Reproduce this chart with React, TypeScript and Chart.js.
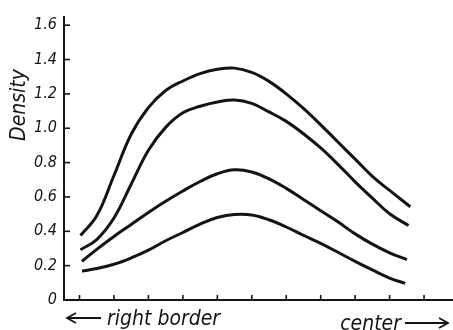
import React, { useEffect, useRef } from "react";
import { Chart, registerables } from "chart.js";

Chart.register(...registerables);

const yTickValues = [0, 0.2, 0.4, 0.6, 0.8, 1.0, 1.2, 1.4, 1.6];
const yTickLabels = ["0", "0.2", "0.4", "0.6", "0.8", "1.0", "1.2", "1.4", "1.6"];
const xTickValues = [0, 1, 2, 3, 4, 5, 6, 7, 8, 9, 10];

const curve1X = [0.03, 0.5, 1, 1.5, 2, 2.5, 3, 3.5, 4, 4.5, 5, 5.5, 6, 6.5, 7, 7.5, 8, 8.5, 9, 9.6];
const curve1Y = [0.376, 0.49, 0.725, 0.965, 1.12, 1.22, 1.275, 1.318, 1.343, 1.35, 1.325, 1.273, 1.2, 1.115, 1.02, 0.92, 0.82, 0.72, 0.638, 0.543];

const curve2X = [0.03, 0.5, 1, 1.5, 2, 2.5, 3, 3.5, 4, 4.5, 5, 5.5, 6, 6.5, 7, 7.5, 8, 8.5, 9, 9.55];
const curve2Y = [0.293, 0.352, 0.477, 0.674, 0.872, 1.005, 1.09, 1.128, 1.153, 1.165, 1.145, 1.095, 1.04, 0.968, 0.885, 0.79, 0.688, 0.593, 0.502, 0.434];

const curve3X = [0.07, 0.5, 1, 1.5, 2, 2.5, 3, 3.5, 4, 4.5, 5, 5.5, 6, 6.5, 7, 7.5, 8, 8.5, 9, 9.5];
const curve3Y = [0.225, 0.295, 0.37, 0.44, 0.51, 0.575, 0.635, 0.69, 0.735, 0.758, 0.745, 0.705, 0.65, 0.585, 0.52, 0.455, 0.385, 0.325, 0.275, 0.235];

const curve4X = [0.07, 0.5, 1, 1.5, 2, 2.5, 3, 3.5, 4, 4.5, 5, 5.5, 6, 6.5, 7, 7.5, 8, 8.5, 9, 9.45];
const curve4Y = [0.168, 0.183, 0.208, 0.245, 0.29, 0.345, 0.393, 0.442, 0.48, 0.498, 0.495, 0.467, 0.425, 0.377, 0.33, 0.278, 0.225, 0.175, 0.128, 0.097];

const yAxisTitle = "Density";
const leftLabel = "right border";
const rightLabel = "center";

const FONT = "'DejaVu Sans Condensed', 'Liberation Sans Narrow', 'DejaVu Sans', sans-serif";
const INK = "#141414";

const toPoints = (xs: number[], ys: number[]) => xs.map((x, i) => ({ x, y: ys[i] }));

function drawArrow(ctx: CanvasRenderingContext2D, x1: number, x2: number, y: number, dir: number) {
  ctx.beginPath();
  ctx.moveTo(x1, y);
  ctx.lineTo(x2, y);
  const hx = dir < 0 ? x1 : x2;
  const s = dir < 0 ? 1 : -1;
  ctx.moveTo(hx + s * 9, y - 5);
  ctx.lineTo(hx, y);
  ctx.lineTo(hx + s * 9, y + 5);
  ctx.stroke();
}

const decorPlugin = {
  id: "decor",
  afterDraw(chart: any) {
    const { ctx, chartArea, scales } = chart;
    const xs = scales.x;
    const ys = scales.y;
    ctx.save();
    ctx.strokeStyle = INK;
    ctx.lineWidth = 1.6;
    yTickValues.forEach((v) => {
      if (v === 0) return;
      const py = ys.getPixelForValue(v);
      ctx.beginPath();
      ctx.moveTo(chartArea.left, py);
      ctx.lineTo(chartArea.left + 6, py);
      ctx.stroke();
    });
    xTickValues.forEach((v) => {
      const px = xs.getPixelForValue(v);
      ctx.beginPath();
      ctx.moveTo(px, chartArea.bottom);
      ctx.lineTo(px, chartArea.bottom - 5);
      ctx.stroke();
    });
    ctx.fillStyle = INK;
    ctx.save();
    ctx.translate(25, 105);
    ctx.rotate(-Math.PI / 2);
    ctx.font = `italic 21px ${FONT}`;
    ctx.textAlign = "center";
    ctx.textBaseline = "alphabetic";
    ctx.fillText(yAxisTitle, 0, 0);
    ctx.restore();
    ctx.font = `italic 21px ${FONT}`;
    ctx.textBaseline = "alphabetic";
    ctx.textAlign = "left";
    ctx.fillText(leftLabel, 107, 325);
    ctx.textAlign = "right";
    ctx.fillText(rightLabel, 401, 330);
    ctx.lineWidth = 1.8;
    drawArrow(ctx, 67, 101, 318, -1);
    drawArrow(ctx, 405, 448, 323, 1);
    ctx.restore();
  },
};

export default function App() {
  const ref = useRef<HTMLCanvasElement>(null);
  useEffect(() => {
    document.body.style.margin = "0";
    const mk = (xs: number[], ys: number[]) => ({
      data: toPoints(xs, ys),
      borderColor: INK,
      borderWidth: 3,
      pointRadius: 0,
      tension: 0.4,
      fill: false,
    });
    const chart = new Chart(ref.current!, {
      type: "line",
      data: {
        datasets: [mk(curve1X, curve1Y), mk(curve2X, curve2Y), mk(curve3X, curve3Y), mk(curve4X, curve4Y)],
      },
      options: {
        animation: false,
        responsive: false,
        layout: { padding: { top: 14.5, right: 0, left: 0, bottom: 0 } },
        plugins: { legend: { display: false }, tooltip: { enabled: false } },
        scales: {
          x: {
            type: "linear",
            min: -0.45,
            max: 10.84,
            grid: { display: false, drawTicks: false },
            border: { display: true, color: INK, width: 2 },
            ticks: { display: false },
            afterFit: (s: any) => {
              s.height = 30;
            },
          },
          y: {
            type: "linear",
            min: 0,
            max: 1.65,
            grid: { display: false, drawTicks: false },
            border: { display: true, color: INK, width: 2 },
            afterBuildTicks: (s: any) => {
              s.ticks = yTickValues.map((v) => ({ value: v }));
            },
            ticks: {
              color: INK,
              padding: 7,
              font: { family: FONT, size: 16, style: "italic" },
              callback: (v: any) => {
                const i = yTickValues.findIndex((t) => Math.abs(t - Number(v)) < 1e-6);
                return i >= 0 ? yTickLabels[i] : "";
              },
            },
            afterFit: (s: any) => {
              s.width = 64;
            },
          },
        },
      },
      plugins: [decorPlugin],
    });
    return () => chart.destroy();
  }, []);
  return <canvas ref={ref} width={453} height={330} />;
}
